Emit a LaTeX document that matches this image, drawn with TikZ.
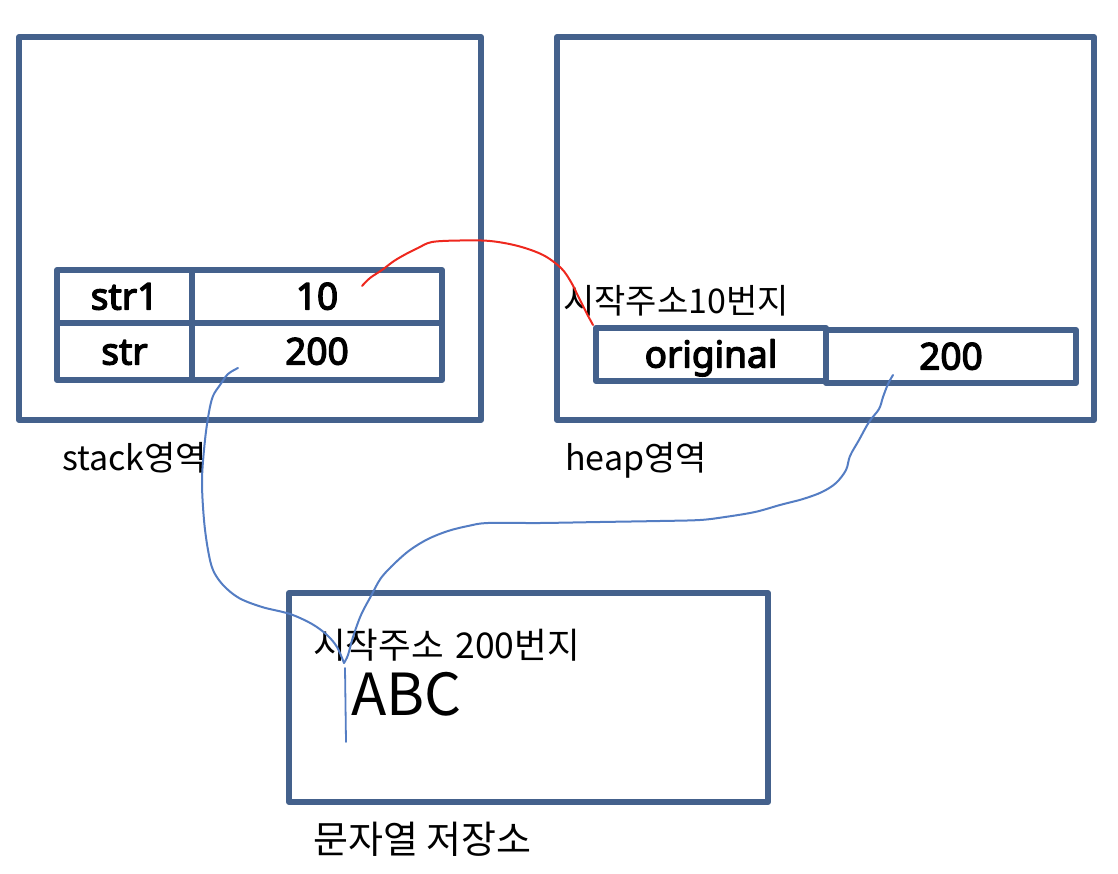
\documentclass[tikz,border=0pt]{standalone}
\usepackage{fontspec}
\setmainfont{Noto Sans CJK KR}
\newfontfamily\cellfont{Noto Sans}[FakeBold=3.5]
\definecolor{boxblue}{RGB}{68,97,140}
\definecolor{lineblue}{RGB}{84,125,195}
\definecolor{linered}{RGB}{238,40,30}
\tikzset{
  area/.style={draw=boxblue, line width=6pt, line join=round, inner sep=0pt, rectangle},
  cell/.style={draw=boxblue, line width=6pt, line join=round, inner sep=0pt, rectangle,
    font=\cellfont\fontsize{37}{43}\selectfont, text height=26pt, text depth=0pt},
  lbl/.style={inner sep=0pt, anchor=base west, font=\fontsize{34}{40}\selectfont},
  bline/.style={draw=lineblue, line width=2pt, line cap=round, line join=round},
  rline/.style={draw=linered, line width=2pt, line cap=round, line join=round}
}
\begin{document}
\begin{tikzpicture}[x=1pt,y=-1pt]
\useasboundingbox (0,0) rectangle (1118,874);
% areas
\node[area, minimum width=462pt, minimum height=383pt] (stack) at (250,228.5) {};
\node[area, minimum width=537pt, minimum height=383pt] (heap) at (825.5,228.5) {};
\node[area, minimum width=479pt, minimum height=209pt] (pool) at (528.5,697.5) {};
% stack table
\node[cell, minimum width=135pt, minimum height=53pt] (s1name) at (124.5,296.5) {str1};
\node[cell, minimum width=250pt, minimum height=53pt] (s1val) at (317,296.5) {10};
\node[cell, minimum width=135pt, minimum height=57pt] (s2name) at (124.5,351.5) {str};
\node[cell, minimum width=250pt, minimum height=57pt] (s2val) at (317,351.5) {200};
% heap table
\node[cell, minimum width=230pt, minimum height=53pt] (orig) at (711,354.5) {original};
\node[cell, minimum width=250pt, minimum height=53pt] (hval) at (951,356.5) {200};
% labels
\node[lbl] (stacklbl) at (62,470) {stack영역};
\node[lbl] (heaplbl) at (565,470) {heap영역};
\node[lbl] (addr10) at (563,313) {시작주소10번지};
\node[lbl, font=\fontsize{35.5}{42}\selectfont] (addr200) at (313,658) {시작주소\hspace{0.1em} 200번지};
\node[lbl, font=\fontsize{58}{66}\selectfont] (abc) at (351,715) {ABC};
\node[lbl, font=\fontsize{38}{44}\selectfont] (poollbl) at (313,853) {문자열 저장소};
% connector end points
\coordinate (rstart) at (362,286);
\coordinate (b1start) at (238,368);
\coordinate (b2start) at (893,375);
\coordinate (meet) at (344,663);
\coordinate (vtop) at (345,668);
\coordinate (vbot) at (346,742);
% red connector: str1 -> original
\draw[rline] plot[smooth, tension=0.55] coordinates {(rstart) (370,278) (382,270) (394,261) (406,254) (418,248) (432,242) (460,240.5) (490,241) (518,246) (543,255) (561,268) (571,282) (579,298) (587,314)} -- (orig.north west);
% blue connector: str -> pool
\draw[bline] plot[smooth, tension=0.55] coordinates {(b1start) (228,374) (220,385) (213,396) (209,412) (205,440) (202,480) (204,520) (208,550) (213,570) (223,585) (239,598) (262,607) (290,614) (312,624) (327,635) (337,647) (meet)};
% blue connector: heap 200 -> pool
\draw[bline] plot[smooth, tension=0.55] coordinates {(b2start) (888,384) (883,397) (879,409) (869,422) (859,440) (850,456) (846,470) (836,483) (822,492) (803,499) (780,505) (755,512) (725,517) (700,520) (660,521) (600,522) (540,523) (488,523) (468,526) (448,531) (428,539) (410,550) (395,563) (381,578) (371,596) (361,615) (353,637) (348,655) (meet)};
\draw[bline, line width=1.8pt] (vtop) -- (vbot);
\end{tikzpicture}
\end{document}
